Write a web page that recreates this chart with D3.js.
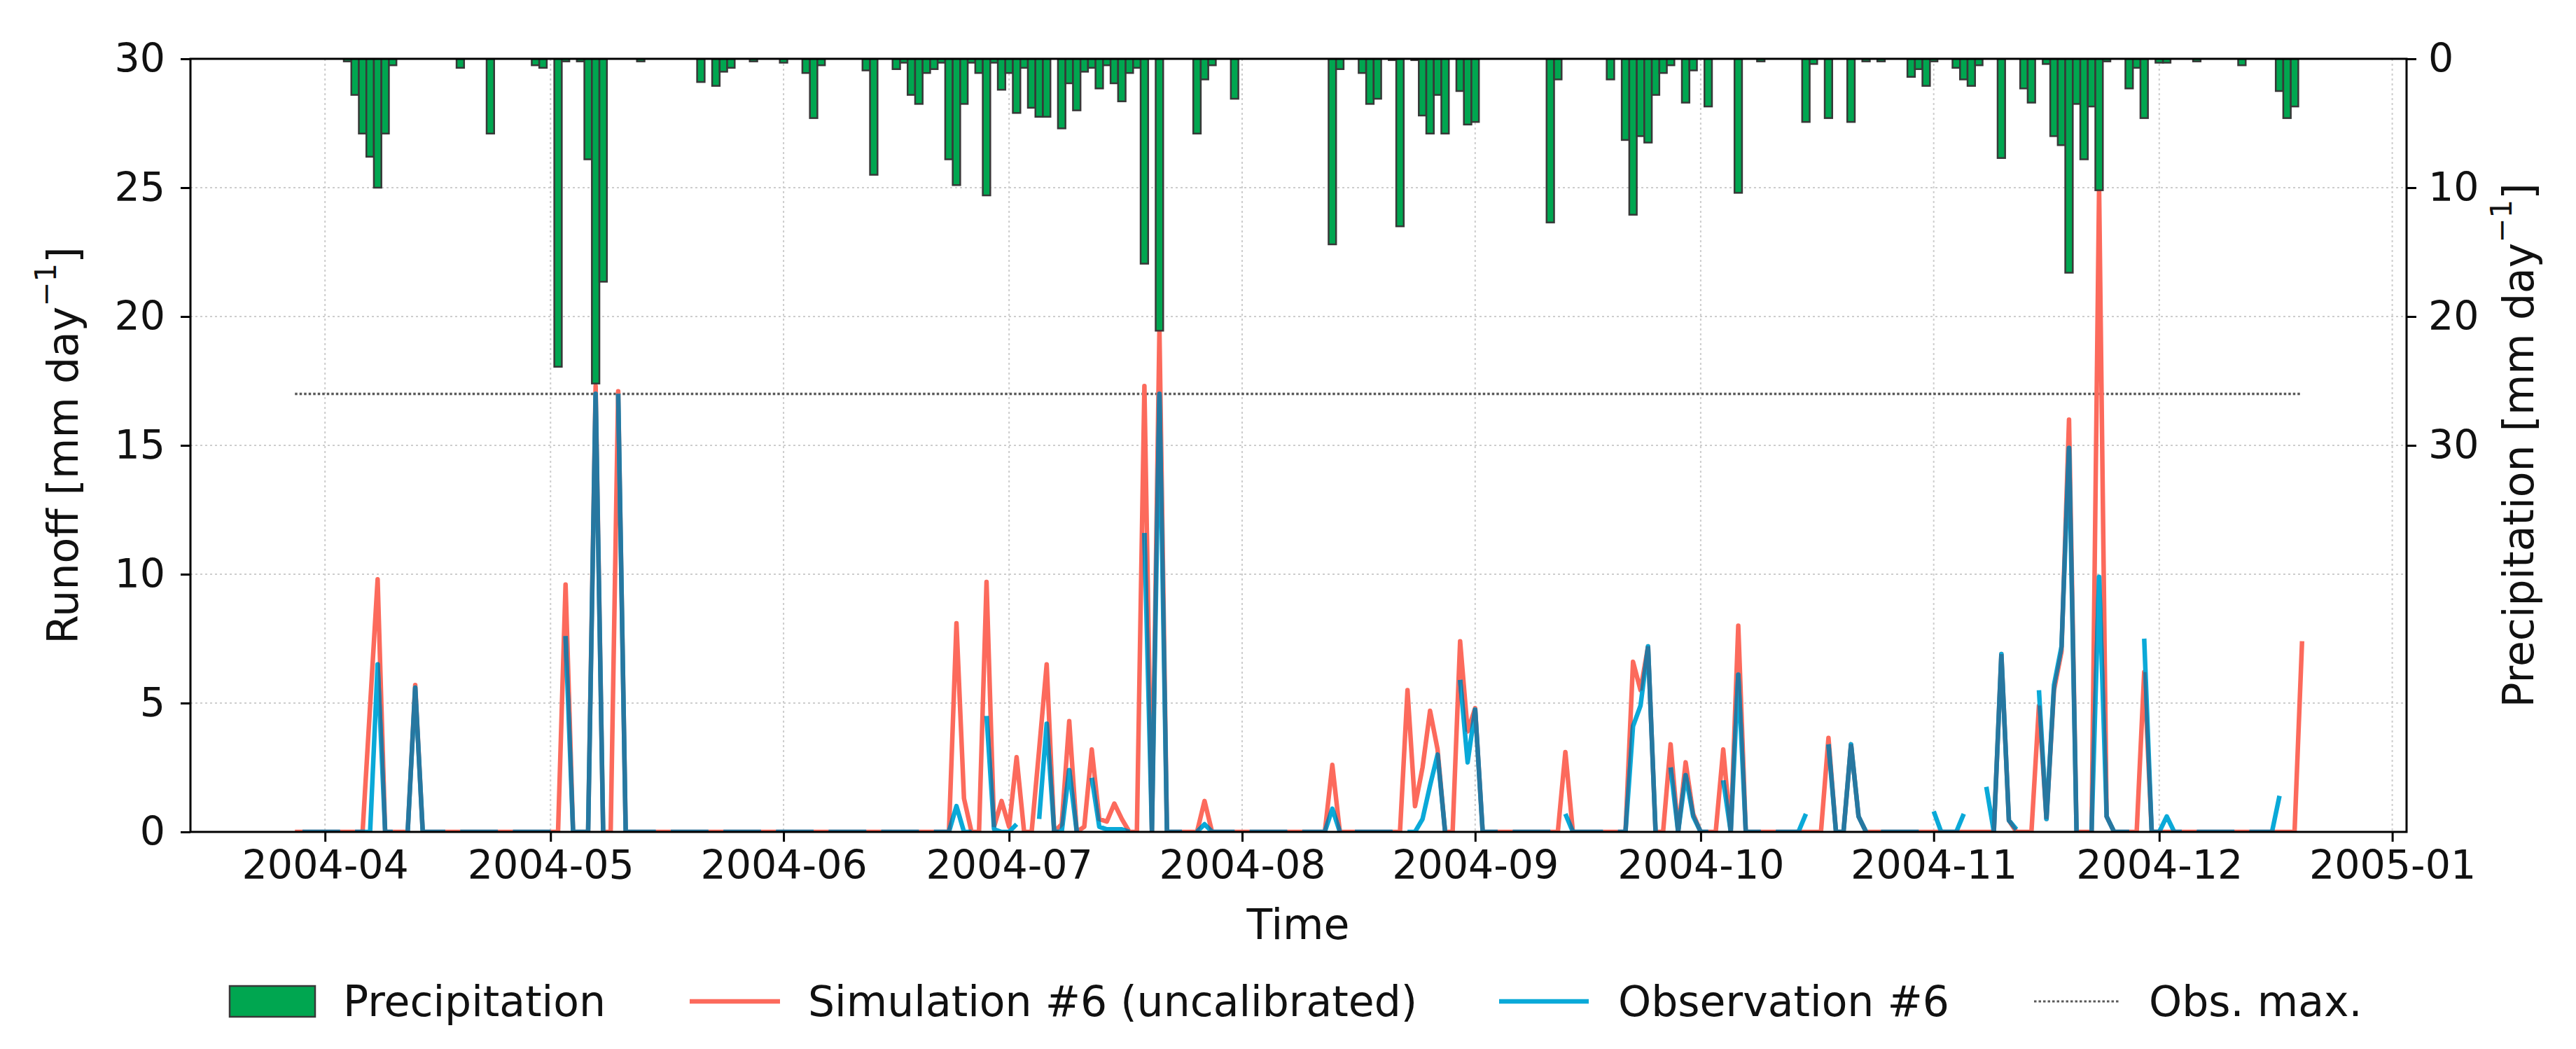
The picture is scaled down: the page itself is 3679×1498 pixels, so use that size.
<!DOCTYPE html>
<html>
<head>
<meta charset="utf-8">
<script src="https://cdn.jsdelivr.net/npm/d3@7"></script>
<style>
  body { margin: 0; background: #fff; }
  svg { display: block; font-family: "DejaVu Sans", sans-serif; }
</style>
</head>
<body>
<svg id="chart"></svg>
<script>
// First day of the record (a Sunday), one value per day after that
const firstDay = new Date(Date.UTC(2004, 2, 28));

// Daily precipitation [mm/day], one row per week (Sun..Sat)
const precipitation = [
    0, 0, 0, 0, 0, 0, 0,
    0.2, 2.8, 5.8, 7.6, 10.0, 5.8, 0.5,
    0, 0, 0, 0, 0, 0, 0,
    0, 0.7, 0, 0, 0, 5.8, 0,
    0, 0, 0, 0, 0.5, 0.7, 0,
    23.9, 0.2, 0, 0.2, 7.8, 25.2, 17.3,
    0, 0, 0, 0, 0.2, 0, 0,
    0, 0, 0, 0, 0, 1.8, 0,
    2.1, 1.0, 0.7, 0, 0, 0.2, 0,
    0, 0, 0.3, 0, 0, 1.1, 4.6,
    0.5, 0, 0, 0, 0, 0, 0.9,
    9.0, 0, 0, 0.8, 0.3, 2.8, 3.5,
    1.1, 0.8, 0.3, 7.8, 9.8, 3.5, 0.3,
    1.1, 10.6, 0.3, 2.4, 1.1, 4.2, 0.7,
    3.8, 4.5, 4.5, 0, 5.4, 1.9, 4.0,
    1.0, 0.7, 2.3, 0.5, 1.9, 3.3, 1.1,
    0.7, 15.9, 0, 21.1, 0, 0, 0,
    0, 5.8, 1.6, 0.5, 0, 0, 3.1,
    0, 0, 0, 0, 0, 0, 0,
    0, 0, 0, 0, 0, 14.4, 0.8,
    0, 0, 1.1, 3.5, 3.1, 0, 0.1,
    13.0, 0, 0.1, 4.4, 5.8, 2.8, 5.8,
    0, 2.5, 5.1, 4.9, 0, 0, 0,
    0, 0, 0, 0, 0, 0, 12.7,
    1.6, 0, 0, 0, 0, 0, 0,
    1.6, 0, 6.3, 12.1, 6.0, 6.5, 2.8,
    1.1, 0.5, 0, 3.4, 0.9, 0, 3.7,
    0, 0, 0, 10.4, 0, 0, 0.2,
    0, 0, 0, 0, 0, 4.9, 0.4,
    0, 4.6, 0, 0, 4.9, 0, 0.2,
    0, 0.2, 0, 0, 0, 1.4, 0.8,
    2.1, 0.2, 0, 0, 0.7, 1.6, 2.1,
    0.5, 0, 0, 7.7, 0, 0, 2.3,
    3.4, 0, 0.4, 6.0, 6.7, 16.6, 3.5,
    7.8, 3.7, 10.2, 0.2, 0, 0, 2.3,
    0.7, 4.6, 0, 0.3, 0.3, 0, 0,
    0, 0.2, 0, 0, 0, 0, 0,
    0.5, 0, 0, 0, 0, 2.5, 4.6,
    3.7, 0
];

// Simulated runoff #6 (uncalibrated) [mm/day]
const simulation = [
    0, 0, 0, 0, 0, 0, 0,
    0, 0, 0, 4.9, 9.8, 0, 0,
    0, 0, 5.7, 0, 0, 0, 0,
    0, 0, 0, 0, 0, 0, 0,
    0, 0, 0, 0, 0, 0, 0,
    0, 9.6, 0, 0, 0, 17.3, 0,
    0, 17.1, 0, 0, 0, 0, 0,
    0, 0, 0, 0, 0, 0, 0,
    0, 0, 0, 0, 0, 0, 0,
    0, 0, 0, 0, 0, 0, 0,
    0, 0, 0, 0, 0, 0, 0,
    0, 0, 0, 0, 0, 0, 0,
    0, 0, 0, 0, 8.1, 1.3, 0,
    0, 9.7, 0.2, 1.2, 0.2, 2.9, 0,
    0, 3.2, 6.5, 0, 0.3, 4.3, 0,
    0.2, 3.2, 0.5, 0.4, 1.1, 0.5, 0,
    0, 17.3, 0, 19.5, 0, 0, 0,
    0, 0, 1.2, 0, 0, 0, 0,
    0, 0, 0, 0, 0, 0, 0,
    0, 0, 0, 0, 0, 2.6, 0,
    0, 0, 0, 0, 0, 0, 0,
    0, 5.5, 1.0, 2.5, 4.7, 3.2, 0,
    0, 7.4, 3.9, 4.8, 0, 0, 0,
    0, 0, 0, 0, 0, 0, 0,
    0, 3.1, 0, 0, 0, 0, 0,
    0, 0, 0, 6.6, 5.5, 7.2, 0,
    0, 3.4, 0, 2.7, 0.7, 0, 0,
    0, 3.2, 0, 8.0, 0, 0, 0,
    0, 0, 0, 0, 0, 0, 0,
    0, 3.65, 0, 0, 3.4, 0.6, 0,
    0, 0, 0, 0, 0, 0, 0,
    0, 0, 0, 0, 0, 0, 0,
    0, 0, 0, 6.9, 0.45, 0, 0,
    0, 4.9, 0.5, 5.5, 7.0, 16.0, 0,
    0, 0, 25.0, 0.6, 0, 0, 0,
    0, 6.2, 0, 0, 0, 0, 0,
    0, 0, 0, 0, 0, 0, 0,
    0, 0, 0, 0, 0, 0, 0,
    0, 7.4
];

// Observed runoff #6 [mm/day], null = no observation
const observation = [
    null, 0, 0, 0, 0, 0, 0,
    null, 0, 0, 0, 6.5, 0, 0,
    null, 0, 5.6, 0, 0, 0, 0,
    null, 0, 0, 0, 0, 0, 0,
    null, 0, 0, 0, 0, 0, 0,
    null, 7.6, 0, 0, 0, 17.0, 0,
    null, 17.0, 0, 0, 0, 0, 0,
    null, 0, 0, 0, 0, 0, 0,
    null, 0, 0, 0, 0, 0, 0,
    null, 0, 0, 0, 0, 0, 0,
    null, 0, 0, 0, 0, 0, 0,
    null, 0, 0, 0, 0, 0, 0,
    null, 0, 0, 0, 1.0, 0, 0,
    null, 4.5, 0.1, 0, 0, 0.3, null,
    null, 0.5, 4.2, 0, 0, 2.4, 0,
    null, 2.1, 0.2, 0.1, 0.1, 0.1, 0,
    null, 11.6, 0, 17.0, 0, 0, 0,
    null, 0, 0.3, 0, 0, 0, 0,
    null, 0, 0, 0, 0, 0, 0,
    null, 0, 0, 0, 0, 0.9, 0,
    null, 0, 0, 0, 0, 0, 0,
    null, 0, 0, 0.5, 1.8, 3.0, 0,
    null, 5.9, 2.7, 4.75, 0, 0, 0,
    null, 0, 0, 0, 0, 0, 0,
    null, 0.7, 0, 0, 0, 0, 0,
    null, 0, 0, 4.1, 4.9, 7.2, 0,
    null, 2.5, 0, 2.2, 0.6, 0, 0,
    null, 2.0, 0, 6.1, 0, 0, 0,
    null, 0, 0, 0, 0, 0.7, null,
    null, 3.4, 0, 0, 3.4, 0.6, 0,
    null, 0, 0, 0, 0, 0, 0,
    null, 0.8, 0, 0, 0, 0.7, null,
    null, 1.75, 0, 6.9, 0.45, 0.1, null,
    null, 5.5, 0.5, 5.7, 7.2, 14.9, 0,
    null, 0, 9.9, 0.6, 0, 0, 0,
    null, 7.5, 0, 0, 0.6, 0, 0,
    null, 0, 0, 0, 0, 0, 0,
    null, 0, 0, 0, 0, 1.4, null,
    null, null
];

const obsMax = 17.0;
const runoffTicks = [0, 5, 10, 15, 20, 25, 30];
const precipTicks = [0, 10, 20, 30];
const legendLabels = ['Precipitation', 'Simulation #6 (uncalibrated)', 'Observation #6', 'Obs. max.'];

// Colours
const barFill = '#00a650';
const barEdge = '#383838';
const simColor = '#fc6a5c';
const obsColor = '#0aa9d8';
const obsOverlapColor = '#2777a0';
const obsMaxColor = '#5a5a5a';
const gridColor = '#cdcdcd';

const days = precipitation.map((_, i) => d3.utcDay.offset(firstDay, i));
const halfDay = 12 * 3600 * 1000;

// Chart size and margins
const margin = { top: 84, right: 242, bottom: 310, left: 272 };
const width = 3679 - margin.left - margin.right;
const height = 1498 - margin.top - margin.bottom;
const tickFont = 57;
const labelFont = 60;
const lineWidth = 6.5;

const root = d3.select('#chart')
    .attr('width', width + margin.left + margin.right)
    .attr('height', height + margin.top + margin.bottom);

const svg = root.append('g')
    .attr('transform', `translate(${margin.left},${margin.top})`);

// Time scale with 5% padding around the bars, like matplotlib
const t0 = +days[0] - halfDay;
const t1 = +days[days.length - 1] + halfDay;
const pad = (t1 - t0) * 0.05;
const xScale = d3.scaleUtc()
    .domain([new Date(t0 - pad), new Date(t1 + pad)])
    .range([0, width]);

const yRunoff = d3.scaleLinear().domain([0, 30]).range([height, 0]);
const yPrecip = d3.scaleLinear().domain([0, 60]).range([0, height]);

const monthTicks = xScale.ticks(d3.utcMonth.every(1));

// Grid
svg.append('g')
    .selectAll('line')
    .data(monthTicks)
    .join('line')
    .attr('x1', d => xScale(d)).attr('x2', d => xScale(d))
    .attr('y1', 0).attr('y2', height)
    .attr('stroke', gridColor).attr('stroke-width', 2).attr('stroke-dasharray', '3,4');

svg.append('g')
    .selectAll('line')
    .data(runoffTicks.filter(t => t > 0 && t < 30))
    .join('line')
    .attr('x1', 0).attr('x2', width)
    .attr('y1', d => yRunoff(d)).attr('y2', d => yRunoff(d))
    .attr('stroke', gridColor).attr('stroke-width', 2).attr('stroke-dasharray', '3,4');

// Clip to the plot area
const defs = root.append('defs');
defs.append('clipPath').attr('id', 'plotClip')
    .append('rect').attr('width', width).attr('height', height);

const lineGen = d3.line()
    .defined(d => d != null)
    .x((d, i) => xScale(days[i]))
    .y(d => yRunoff(d));

// Mask of the simulation stroke: where the observation runs on top of it, it looks darker
const mask = defs.append('mask').attr('id', 'simMask')
    .attr('maskUnits', 'userSpaceOnUse')
    .attr('x', 0).attr('y', 0).attr('width', width).attr('height', height);
mask.append('path')
    .attr('d', lineGen(simulation))
    .attr('fill', 'none').attr('stroke', '#fff').attr('stroke-width', lineWidth);

const lines = svg.append('g').attr('clip-path', 'url(#plotClip)');

// Obs. max line
lines.append('line')
    .attr('x1', xScale(days[0])).attr('x2', xScale(days[days.length - 1]))
    .attr('y1', yRunoff(obsMax)).attr('y2', yRunoff(obsMax))
    .attr('stroke', obsMaxColor).attr('stroke-width', 3.5).attr('stroke-dasharray', '3.5,3');

lines.append('path')
    .attr('d', lineGen(simulation))
    .attr('fill', 'none').attr('stroke', simColor).attr('stroke-width', lineWidth)
    .attr('stroke-linejoin', 'round');

lines.append('path')
    .attr('d', lineGen(observation))
    .attr('fill', 'none').attr('stroke', obsColor).attr('stroke-width', lineWidth)
    .attr('stroke-linejoin', 'round');

lines.append('g').attr('mask', 'url(#simMask)')
    .append('path')
    .attr('d', lineGen(observation))
    .attr('fill', 'none').attr('stroke', obsOverlapColor).attr('stroke-width', lineWidth)
    .attr('stroke-linejoin', 'round');

// Precipitation bars hang from the top
svg.append('g')
    .attr('clip-path', 'url(#plotClip)')
    .selectAll('rect')
    .data(precipitation.map((v, i) => ({ v, day: days[i] })).filter(d => d.v > 0))
    .join('rect')
    .attr('x', d => xScale(new Date(+d.day - halfDay)))
    .attr('width', d => xScale(new Date(+d.day + halfDay)) - xScale(new Date(+d.day - halfDay)))
    .attr('y', 0)
    .attr('height', d => yPrecip(d.v))
    .attr('fill', barFill)
    .attr('stroke', barEdge)
    .attr('stroke-width', 2.5);

// Axes
const xAxis = svg.append('g')
    .attr('transform', `translate(0,${height})`)
    .call(d3.axisBottom(xScale).tickValues(monthTicks).tickFormat(d3.utcFormat('%Y-%m'))
        .tickSize(14).tickPadding(13));

const yAxis = svg.append('g')
    .call(d3.axisLeft(yRunoff).tickValues(runoffTicks).tickSize(14).tickPadding(22));

const y2Axis = svg.append('g')
    .attr('transform', `translate(${width},0)`)
    .call(d3.axisRight(yPrecip).tickValues(precipTicks).tickSize(14).tickPadding(17));

[xAxis, yAxis, y2Axis].forEach(a => {
    a.select('.domain').remove();
    a.selectAll('.tick line').attr('stroke', '#000').attr('stroke-width', 3);
    a.selectAll('.tick text')
        .attr('font-family', '"DejaVu Sans", sans-serif')
        .attr('font-size', tickFont)
        .attr('fill', '#111');
});

// Spines
svg.append('rect')
    .attr('width', width).attr('height', height)
    .attr('fill', 'none').attr('stroke', '#000').attr('stroke-width', 3);

// Axis labels
const yLabel = svg.append('text')
    .attr('transform', `translate(${90 - margin.left},${height / 2}) rotate(-90)`)
    .attr('text-anchor', 'middle').attr('dominant-baseline', 'central')
    .attr('font-size', labelFont).attr('fill', '#111');
yLabel.append('tspan').text('Runoff [mm day');
yLabel.append('tspan').attr('baseline-shift', 'super').attr('font-size', labelFont * 0.7).text('\u22121');
yLabel.append('tspan').text(']');

const y2Label = svg.append('text')
    .attr('transform', `translate(${3597 - margin.left},${height / 2}) rotate(-90)`)
    .attr('text-anchor', 'middle').attr('dominant-baseline', 'central')
    .attr('font-size', labelFont).attr('fill', '#111');
y2Label.append('tspan').text('Precipitation [mm day');
y2Label.append('tspan').attr('baseline-shift', 'super').attr('font-size', labelFont * 0.7).text('\u22121');
y2Label.append('tspan').text(']');

svg.append('text')
    .attr('x', 1854 - margin.left).attr('y', 1320 - margin.top)
    .attr('text-anchor', 'middle').attr('dominant-baseline', 'central')
    .attr('font-size', labelFont).attr('fill', '#111')
    .text('Time');

// Legend (one row below the axis)
const legend = root.append('g').attr('transform', 'translate(0,1430)');

legend.append('rect')
    .attr('x', 328).attr('y', -22).attr('width', 122).attr('height', 44)
    .attr('fill', barFill).attr('stroke', barEdge).attr('stroke-width', 2.5);

legend.append('line').attr('x1', 985).attr('x2', 1114)
    .attr('stroke', simColor).attr('stroke-width', lineWidth);
legend.append('line').attr('x1', 2141).attr('x2', 2269)
    .attr('stroke', obsColor).attr('stroke-width', lineWidth);
legend.append('line').attr('x1', 2905).attr('x2', 3027)
    .attr('stroke', obsMaxColor).attr('stroke-width', 3).attr('stroke-dasharray', '3.5,3');

legend.selectAll('text.lbl')
    .data(legendLabels)
    .join('text')
    .attr('class', 'lbl')
    .attr('x', (d, i) => [490, 1154, 2311, 3069][i])
    .attr('dominant-baseline', 'central')
    .attr('font-size', labelFont).attr('fill', '#111')
    .text(d => d);
</script>
</body>
</html>
